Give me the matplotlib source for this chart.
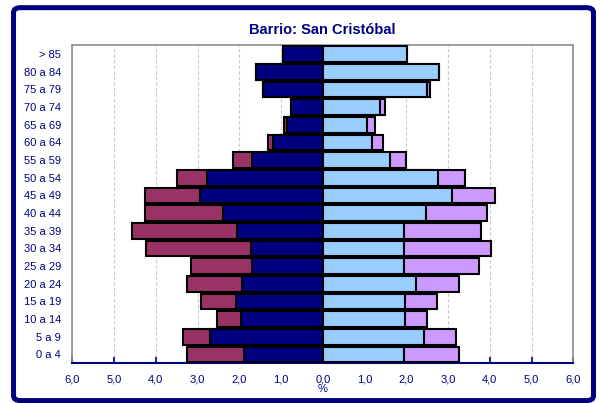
import matplotlib.pyplot as plt
from matplotlib.patches import FancyBboxPatch
from matplotlib.ticker import FuncFormatter, MultipleLocator

plt.rcParams["font.family"] = ["Liberation Sans", "DejaVu Sans"]

# age groups, bottom to top
grupos = ["0 a 4", "5 a 9", "10 a 14", "15 a 19", "20 a 24", "25 a 29",
          "30 a 34", "35 a 39", "40 a 44", "45 a 49", "50 a 54", "55 a 59",
          "60 a 64", "65 a 69", "70 a 74", "75 a 79", "80 a 84", "> 85"]

# left side (%): back bars (maroon) and front bars (navy)
izq_fondo = [3.25, 3.35, 2.54, 2.91, 3.25, 3.15, 4.23, 4.58, 4.25, 4.26,
             3.49, 2.15, 1.31, 0.93, 0.76, 1.43, 1.60, 0.95]
izq_frente = [1.89, 2.71, 1.97, 2.07, 1.94, 1.69, 1.73, 2.05, 2.38, 2.95,
              2.78, 1.70, 1.19, 0.85, 0.76, 1.43, 1.59, 0.95]

# right side (%): back bars (lilac) and front bars (light blue)
der_fondo = [3.26, 3.19, 2.49, 2.74, 3.27, 3.73, 4.03, 3.80, 3.94, 4.12,
             3.40, 1.98, 1.45, 1.24, 1.48, 2.57, 2.79, 2.02]
der_frente = [1.94, 2.43, 1.97, 1.96, 2.24, 1.94, 1.94, 1.94, 2.46, 3.09,
              2.76, 1.62, 1.17, 1.05, 1.38, 2.50, 2.79, 2.02]

navy = "#000080"
granate = "#993366"
celeste = "#99CCFF"
lila = "#CC99FF"

fig = plt.figure(figsize=(6.01, 4.03), dpi=100)

# outer rounded navy frame
marco = FancyBboxPatch((0.0225, 0.006), 0.965, 0.975,
                       boxstyle="round,pad=0,rounding_size=0.012",
                       transform=fig.transFigure, facecolor="none",
                       edgecolor=navy, linewidth=3.6, zorder=5)
fig.patches.append(marco)

ax = fig.add_axes([0.1203, 0.0985, 0.8337, 0.7891])

y = list(range(len(grupos)))
h = 0.88
kw = dict(height=h, edgecolor="black", linewidth=1.5, zorder=3)

ax.barh(y, [-v for v in izq_fondo], color=granate, **kw)
ax.barh(y, [-v for v in izq_frente], color=navy, **kw)
ax.barh(y, der_fondo, color=lila, **kw)
ax.barh(y, der_frente, color=celeste, **kw)

ax.set_xlim(-6, 6)
ax.set_ylim(-0.5, len(grupos) - 0.5)
ax.set_yticks(y)
ax.set_yticklabels(grupos)
ax.xaxis.set_major_locator(MultipleLocator(1))
ax.xaxis.set_major_formatter(FuncFormatter(lambda v, p: f"{abs(v):.1f}".replace(".", ",")))

ax.grid(axis="x", color="#c8c8c8", linestyle=(0, (3, 2)), linewidth=0.8, zorder=0)
ax.set_axisbelow(True)

for lado in ["top", "left", "right"]:
    ax.spines[lado].set_color("#8c8c8c")
    ax.spines[lado].set_linewidth(1.2)
ax.spines["bottom"].set_color(navy)
ax.spines["bottom"].set_linewidth(1.5)

ax.tick_params(axis="x", direction="in", length=4, width=1.2, color=navy,
               labelcolor=navy, labelsize=8, pad=8)
ax.tick_params(axis="y", length=0, labelcolor=navy, labelsize=8, pad=8)

ax.set_xlabel("%", color=navy, fontsize=8, labelpad=0)
fig.text(0.536, 0.925, "Barrio: San Cristóbal", color=navy, fontsize=10.5,
         fontweight="bold", ha="center", va="center")

fig.savefig("out.png", dpi=100)
